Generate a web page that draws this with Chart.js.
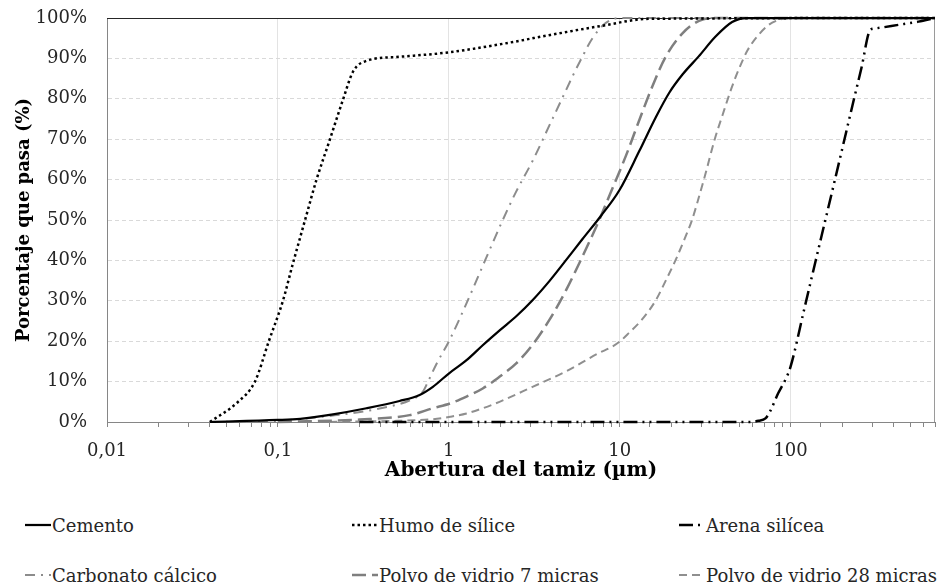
<!DOCTYPE html>
<html>
<head>
<meta charset="utf-8">
<script src="https://cdn.jsdelivr.net/npm/chart.js@4.4.1/dist/chart.umd.min.js"></script>
<style>
  html, body { margin: 0; padding: 0; background: #fff; }
  #wrap { position: relative; width: 941px; height: 584px; overflow: hidden; }
  #chart-box { position: absolute; left: 0; top: 0; width: 941px; height: 490px; }
  #legend {
    position: absolute; left: 25px; top: 500px;
    display: grid; grid-template-columns: 327px 327px 262px; grid-auto-rows: 50px;
    font-family: 'DejaVu Serif', serif; font-size: 18px; color: #262626;
  }
  .item { display: flex; align-items: center; white-space: nowrap; }
  .item svg { flex: none; margin-right: 1px; }
</style>
</head>
<body>
<div id="wrap">
  <div id="chart-box"><canvas id="psdChart"></canvas></div>
  <div id="legend"></div>
</div>
<script>
// Abertura del tamiz (µm) / porcentaje que pasa (%) por material
const cementoX = [0.04, 0.1, 0.135, 0.21, 0.33, 0.515, 0.675, 0.807, 1.0, 1.27, 1.58, 2.0, 2.5, 3.1, 3.9, 4.84, 6.06, 7.76, 10, 13, 16.3, 19.5, 23.3, 29, 36.4, 45.5, 55, 700];
const cementoY = [0, 0.5, 0.8, 1.9, 3.4, 5.2, 6.7, 8.7, 12, 15.3, 19, 22.8, 26.3, 30.2, 35, 40, 45.3, 51, 57.5, 67, 75.5, 81.5, 86, 90.5, 95.4, 99, 100, 100];

const humoX = [0.04, 0.0585, 0.0734, 0.0885, 0.107, 0.122, 0.146, 0.168, 0.201, 0.24, 0.275, 0.33, 0.515, 1.0, 2.0, 3.93, 7.7, 15, 700];
const humoY = [0, 5, 10, 20, 30, 39, 50.8, 59.9, 69.8, 79.7, 86.7, 89.4, 90.4, 91.5, 93.5, 95.8, 98, 99.8, 100];

const arenaX = [0.3, 57, 65, 71.3, 75.6, 84.6, 94, 100, 120, 140, 160, 180, 200, 230, 260, 292, 310, 427, 560, 700];
const arenaY = [0, 0, 0.3, 0.9, 2.5, 7.1, 10.8, 13.7, 27.8, 39.8, 50.1, 59.2, 67.4, 78.3, 87.7, 97, 97.4, 98.3, 99.1, 100];

const carbonatoX = [0.04, 0.1, 0.2, 0.4, 0.6, 0.705, 0.75, 0.85, 1.0, 1.32, 1.65, 2.07, 2.47, 3.09, 4.05, 4.63, 5.29, 6.06, 6.93, 8.3, 10, 700];
const carbonatoY = [0, 0.3, 1.5, 3.4, 5.5, 7.5, 9.7, 14.5, 19.9, 31, 40.5, 50, 56.9, 64.6, 75.1, 80.3, 85.5, 90.5, 95, 98.8, 100, 100];

const vidrio7X = [0.1, 0.3, 0.59, 0.807, 1.02, 1.27, 1.58, 1.98, 2.48, 3.09, 3.87, 4.84, 6.06, 7.5, 8.8, 10.9, 13.1, 15.5, 18.6, 23.3, 29.1, 35, 700];
const vidrio7Y = [0, 0.6, 1.7, 3.4, 4.6, 6.3, 8.3, 11.2, 14.5, 19.1, 25.2, 32.5, 41, 49.5, 56.5, 66, 75, 83, 90.4, 96.2, 99.3, 100, 100];

const vidrio28X = [0.2, 0.5, 0.807, 1.02, 1.27, 1.58, 1.98, 3.09, 4.84, 7.5, 9, 10, 11.3, 13.6, 16.3, 18.6, 21.2, 23.8, 26.5, 29, 31.8, 36, 40, 45, 50, 56, 64, 74.5, 85, 95, 700];
const vidrio28Y = [0, 0.3, 0.7, 1.3, 2.1, 3.4, 5, 8.7, 12.5, 17, 18.6, 19.9, 22, 25.5, 30.2, 35, 40, 45, 50, 55.5, 61.5, 70, 76, 82.5, 87.5, 92, 95.5, 98.3, 99.5, 100, 100];

const xMin = 0.01;
const xMax = 700;
const yTicks = [0, 10, 20, 30, 40, 50, 60, 70, 80, 90, 100];

const toPoints = (xs, ys) => xs.map((x, i) => ({ x, y: ys[i] }));
const isDecade = v => Math.abs(Math.log10(v) - Math.round(Math.log10(v))) < 1e-9;

const FONT = "'DejaVu Serif', serif";

// plot frame: dark top edge, grey right edge
const framePlugin = {
  id: 'frame',
  beforeDatasetsDraw(chart) {
    const { ctx, chartArea: a } = chart;
    ctx.save();
    ctx.lineWidth = 1;
    ctx.strokeStyle = '#9a9a9a';
    ctx.beginPath();
    ctx.moveTo(a.right - 0.5, a.top);
    ctx.lineTo(a.right - 0.5, a.bottom);
    ctx.stroke();
    ctx.strokeStyle = '#262626';
    ctx.beginPath();
    ctx.moveTo(a.left, a.top + 0.5);
    ctx.lineTo(a.right, a.top + 0.5);
    ctx.stroke();
    ctx.restore();
  }
};

const datasets = [
  { label: 'Cemento', data: toPoints(cementoX, cementoY), borderColor: '#000000', borderWidth: 2.25, borderDash: [] },
  { label: 'Humo de sílice', data: toPoints(humoX, humoY), borderColor: '#000000', borderWidth: 2.5, borderDash: [2.5, 3] },
  { label: 'Arena silícea', data: toPoints(arenaX, arenaY), borderColor: '#000000', borderWidth: 2.5, borderDash: [14, 5, 2, 5, 2, 5] },
  { label: 'Carbonato cálcico', data: toPoints(carbonatoX, carbonatoY), borderColor: '#8c8c8c', borderWidth: 2, borderDash: [10, 6, 2, 6] },
  { label: 'Polvo de vidrio 7 micras', data: toPoints(vidrio7X, vidrio7Y), borderColor: '#7f7f7f', borderWidth: 2.5, borderDash: [14, 6] },
  { label: 'Polvo de vidrio 28 micras', data: toPoints(vidrio28X, vidrio28Y), borderColor: '#8f8f8f', borderWidth: 2, borderDash: [8, 5] }
].map(ds => Object.assign(ds, {
  pointRadius: 0,
  fill: false,
  cubicInterpolationMode: 'monotone',
  borderCapStyle: 'butt',
  clip: 4
}));

const chart = new Chart(document.getElementById('psdChart'), {
  type: 'line',
  data: { datasets },
  plugins: [framePlugin],
  options: {
    responsive: true,
    maintainAspectRatio: false,
    animation: false,
    layout: { padding: { top: 18, right: 6, left: 0, bottom: 0 } },
    plugins: {
      legend: { display: false },
      tooltip: { enabled: false }
    },
    scales: {
      x: {
        type: 'logarithmic',
        min: xMin,
        max: xMax,
        afterFit(scale) {
          scale.height = 68;
          scale.paddingLeft = 0;
          scale.paddingRight = 0;
        },
        ticks: {
          autoSkip: false,
          maxRotation: 0,
          padding: 14,
          color: '#262626',
          font: { family: FONT, size: 18 },
          callback: v => isDecade(v) ? String(v).replace('.', ',') : ''
        },
        grid: {
          color: ctx => (ctx.tick && isDecade(ctx.tick.value) && ctx.tick.value > xMin) ? '#e3e3e3' : 'rgba(0,0,0,0)',
          tickColor: '#868686',
          tickLength: 5,
          lineWidth: 1
        },
        border: { color: '#868686', width: 1 },
        title: {
          display: true,
          text: 'Abertura del tamiz (µm)',
          color: '#000000',
          font: { family: FONT, size: 20, weight: 'bold' },
          padding: { top: 0, bottom: 7 }
        }
      },
      y: {
        min: 0,
        max: 100,
        afterFit(scale) {
          scale.width = 107;
          scale.paddingTop = 0;
          scale.paddingBottom = 0;
        },
        afterBuildTicks(scale) { scale.ticks = yTicks.map(v => ({ value: v })); },
        ticks: {
          padding: 20,
          color: '#262626',
          font: { family: FONT, size: 18 },
          callback: v => v + '%'
        },
        grid: {
          drawTicks: false,
          color: ctx => (ctx.tick && ctx.tick.value > 0 && ctx.tick.value < 100) ? '#d9d9d9' : 'rgba(0,0,0,0)',
          lineWidth: 1
        },
        border: { color: '#868686', width: 1, dash: [4, 3] },
        title: {
          display: true,
          text: 'Porcentaje que pasa (%)',
          color: '#000000',
          font: { family: FONT, size: 18, weight: 'bold' },
          padding: { top: 14, bottom: 0 }
        }
      }
    }
  }
});

// HTML legend in three columns, samples built from dataset styles
function buildLegend(ch) {
  const box = document.getElementById('legend');
  box.innerHTML = '';
  ch.data.datasets.forEach(ds => {
    const item = document.createElement('div');
    item.className = 'item';
    const dash = (ds.borderDash || []).join(' ');
    item.innerHTML =
      `<svg width="26" height="10"><line x1="0" y1="5" x2="26" y2="5" stroke="${ds.borderColor}" ` +
      `stroke-width="${ds.borderWidth}" ${dash ? `stroke-dasharray="${dash}"` : ''}/></svg>` +
      `<span>${ds.label}</span>`;
    box.appendChild(item);
  });
}
buildLegend(chart);
</script>
</body>
</html>
